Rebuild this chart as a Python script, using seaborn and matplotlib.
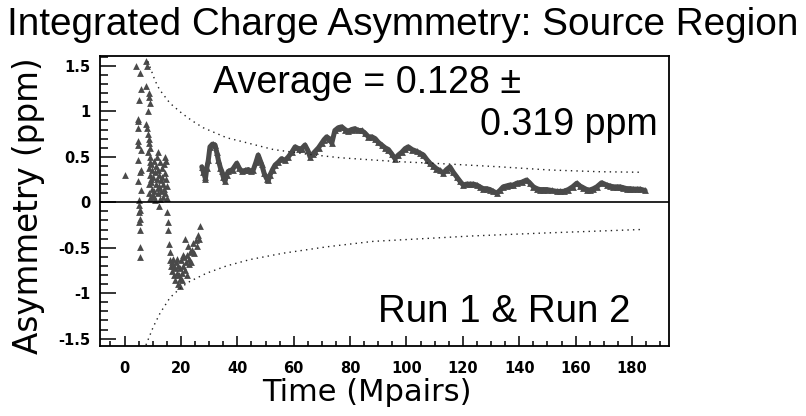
import matplotlib
matplotlib.use("Agg")
import matplotlib.pyplot as plt
from matplotlib.ticker import MultipleLocator, FormatStrFormatter
import seaborn as sns

# --- data ---
# lone early point and the two vertical columns at the start
first_t = [0.2]
first_v = [0.30]

col1_t = [4.0, 5.6, 5.9, 5.1, 4.6, 4.8, 4.8, 4.6, 4.9, 5.7,
          4.8, 5.7, 5.5, 4.8, 5.7, 5.3, 5.3, 5.6, 5.3, 5.6,
          5.3, 5.5, 5.4, 5.4]
col1_v = [1.50, 1.42, 1.25, 1.13, 0.92, 0.89, 0.82, 0.67, 0.63, 0.58,
          0.47, 0.36, 0.33, 0.23, 0.14, 0.02, -0.03, -0.08, -0.11, -0.18,
          -0.22, -0.30, -0.49, -0.60]

col2_t = [7.7, 7.9, 7.6, 8.7, 8.8, 9.0, 8.2, 7.6, 7.8, 8.5,
          8.8, 8.6, 8.9, 8.3, 8.9, 9.1]
col2_v = [1.55, 1.50, 1.28, 1.20, 1.16, 1.09, 1.00, 0.86, 0.82, 0.75,
          0.70, 0.65, 0.60, 0.55, 0.50, 0.44]

# dense clump just above zero
clump_t = [8.6, 8.7, 8.8, 9.0, 9.2, 9.4, 9.5, 9.7, 9.9, 10.0,
           10.2, 10.4, 10.5, 10.7, 10.9, 11.0, 11.2, 11.4, 11.5, 11.7,
           11.9, 12.0, 12.2, 12.4, 12.5, 12.7, 12.9, 13.0, 13.2, 13.4,
           13.5, 13.7, 13.9, 14.0, 14.2, 14.4, 14.5, 14.7, 14.9, 15.0,
           12.3, 11.8, 14.6, 10.3, 9.3]
clump_v = [0.20, 0.38, 0.10, 0.30, 0.05, 0.42, 0.22, 0.15, 0.35, 0.08,
           0.28, 0.45, 0.12, 0.33, 0.02, 0.40, 0.20, 0.50, 0.26, 0.10,
           0.36, 0.55, 0.18, 0.30, 0.04, 0.44, 0.24, 0.12, 0.38, 0.28,
           0.06, 0.20, 0.42, 0.15, 0.32, 0.50, 0.10, 0.26, 0.05, 0.18,
           -0.04, 0.16, 0.45, 0.06, 0.26]

# negative excursion around 20 Mpairs
dip_t = [15.0, 15.5, 15.5, 15.7, 16.0, 16.2, 16.5, 16.8, 17.0, 17.3,
         17.5, 17.8, 18.0, 18.2, 18.5, 18.8, 19.0, 19.3, 19.5, 19.8,
         20.0, 20.3, 20.5, 20.8, 21.0, 21.3, 21.5, 21.8, 22.0, 22.3,
         22.5, 22.8, 23.0, 23.3, 23.6, 24.0, 24.4, 24.8, 25.2, 25.6,
         26.0, 26.4, 26.8, 17.2, 18.6, 20.6, 19.6]
dip_v = [-0.11, -0.22, -0.30, -0.46, -0.55, -0.63, -0.70, -0.66, -0.76, -0.70,
         -0.80, -0.72, -0.85, -0.66, -0.78, -0.70, -0.90, -0.80, -0.72, -0.92,
         -0.64, -0.78, -0.86, -0.70, -0.60, -0.74, -0.40, -0.66, -0.80, -0.58,
         -0.48, -0.68, -0.62, -0.55, -0.66, -0.52, -0.45, -0.56, -0.42, -0.48,
         -0.36, -0.40, -0.26, -0.62, -0.62, -0.58, -0.84]

# running asymmetry after ~27 Mpairs
band_t = [27.4, 28.0, 28.5, 28.7, 29.2, 29.7, 30.3, 31.2, 32.1, 32.7,
          33.3, 34.0, 34.5, 35.0, 35.6, 36.2, 36.8, 38.3, 39.8, 40.6,
          41.5, 42.7, 43.9, 44.8, 45.7, 46.6, 47.4, 48.0, 48.6, 49.5,
          50.4, 51.0, 51.6, 52.5, 53.4, 54.5, 55.7, 56.9, 58.1, 59.3,
          60.5, 61.7, 62.8, 64.0, 65.0, 65.8, 66.7, 67.6, 68.8, 69.9,
          70.8, 71.7, 72.6, 73.5, 74.6, 75.8, 77.0, 78.2, 79.3, 80.5,
          81.7, 82.9, 84.1, 85.3, 86.5, 87.7, 88.9, 90.0, 91.2, 92.4,
          93.6, 94.8, 95.9, 97.1, 98.3, 99.5, 100.6, 102.0, 103.6, 104.8,
          106.0, 107.2, 108.3, 109.5, 110.6, 111.8, 113.0, 114.2, 115.4, 116.6,
          117.8, 119.0, 120.1, 121.3, 122.5, 123.7, 124.9, 126.0, 127.2, 128.4,
          129.6, 130.8, 132.0, 133.1, 134.3, 135.5, 136.7, 137.9, 139.1, 140.8,
          142.6, 143.8, 145.0, 146.2, 147.3, 148.5, 149.7, 151.5, 153.3, 154.5,
          155.7, 157.4, 158.9, 160.4, 161.5, 162.7, 163.9, 165.1, 166.3, 167.5,
          169.2, 171.0, 172.1, 173.3, 174.5, 175.7, 176.9, 178.1, 179.3, 180.5,
          181.6, 182.8, 184.6]
band_v = [0.39, 0.33, 0.28, 0.26, 0.38, 0.46, 0.61, 0.64, 0.63, 0.55,
          0.46, 0.38, 0.34, 0.28, 0.23, 0.30, 0.34, 0.36, 0.43, 0.38,
          0.34, 0.35, 0.36, 0.34, 0.36, 0.44, 0.52, 0.47, 0.42, 0.32,
          0.26, 0.24, 0.30, 0.36, 0.41, 0.44, 0.48, 0.46, 0.50, 0.55,
          0.61, 0.59, 0.59, 0.63, 0.57, 0.50, 0.53, 0.56, 0.60, 0.65,
          0.69, 0.72, 0.70, 0.65, 0.79, 0.82, 0.83, 0.80, 0.78, 0.80,
          0.81, 0.79, 0.79, 0.76, 0.72, 0.72, 0.70, 0.66, 0.63, 0.60,
          0.58, 0.53, 0.48, 0.52, 0.55, 0.59, 0.61, 0.58, 0.56, 0.54,
          0.52, 0.47, 0.43, 0.40, 0.37, 0.35, 0.32, 0.36, 0.39, 0.33,
          0.28, 0.23, 0.19, 0.20, 0.20, 0.20, 0.19, 0.17, 0.15, 0.15,
          0.14, 0.12, 0.10, 0.13, 0.17, 0.18, 0.19, 0.19, 0.21, 0.22,
          0.245, 0.21, 0.17, 0.15, 0.14, 0.14, 0.14, 0.13, 0.12, 0.12,
          0.12, 0.14, 0.17, 0.21, 0.18, 0.16, 0.14, 0.135, 0.15, 0.17,
          0.215, 0.19, 0.18, 0.17, 0.17, 0.17, 0.16, 0.15, 0.15, 0.145,
          0.145, 0.145, 0.13]

# dotted statistical envelope
env_up_t = [8.3, 10.8, 12.4, 16.1, 20.3, 23.8, 27.9, 36.2, 43.3, 52.8,
            64.6, 76.4, 88.2, 97.7, 115.4, 133.0, 150.8, 168.6, 183.4]
env_up_v = [1.55, 1.34, 1.24, 1.09, 0.98, 0.90, 0.82, 0.71, 0.655, 0.58,
            0.53, 0.49, 0.465, 0.446, 0.42, 0.39, 0.355, 0.336, 0.33]
env_lo_t = [7.6, 10.2, 12.6, 16.1, 20.3, 23.2, 29.1, 36.2, 44.5, 56.3,
            71.7, 88.2, 106.0, 123.7, 147.3, 165.1, 182.8]
env_lo_v = [-1.57, -1.37, -1.22, -1.05, -0.93, -0.87, -0.78, -0.70, -0.63, -0.56,
            -0.49, -0.43, -0.40, -0.37, -0.34, -0.32, -0.30]

avg_text = "Average = 0.128 \u00b1"
err_text = "0.319 ppm"
run_text = "Run 1 & Run 2"

# --- drawing ---
sns.set_style("white")
plt.rcParams["font.family"] = ["DejaVu Sans"]
plt.rcParams["text.color"] = "black"
plt.rcParams["xtick.color"] = "black"
plt.rcParams["ytick.color"] = "black"
helv = ["Liberation Sans", "DejaVu Sans"]

fig = plt.figure(figsize=(8.06, 4.16), dpi=100)
ax = fig.add_axes([100 / 806, 70 / 416, 569 / 806, 290 / 416])

pt_color = "#4a4a4a"
scatter_kw = dict(ax=ax, color=pt_color, marker="^", s=24, linewidth=0, legend=False)

sns.scatterplot(x=first_t, y=first_v, **scatter_kw)
sns.scatterplot(x=col1_t, y=col1_v, **scatter_kw)
sns.scatterplot(x=col2_t, y=col2_v, **scatter_kw)
sns.scatterplot(x=clump_t, y=clump_v, **scatter_kw)
sns.scatterplot(x=dip_t, y=dip_v, **scatter_kw)

sns.lineplot(x=band_t, y=band_v, ax=ax, color=pt_color, linewidth=3.6,
             solid_joinstyle="round", solid_capstyle="round")
sns.scatterplot(x=band_t, y=band_v, **scatter_kw)

sns.lineplot(x=env_up_t, y=env_up_v, ax=ax, color="#222222", linewidth=1.0,
             linestyle=(0, (1, 3)))
sns.lineplot(x=env_lo_t, y=env_lo_v, ax=ax, color="#222222", linewidth=1.0,
             linestyle=(0, (1, 3)))

ax.axhline(0, color="black", linewidth=1.2, zorder=1)

ax.set_xlim(-8.7, 193.1)
ax.set_ylim(-1.581, 1.609)

ax.xaxis.set_major_locator(MultipleLocator(20))
ax.xaxis.set_minor_locator(MultipleLocator(5))
ax.yaxis.set_major_locator(MultipleLocator(0.5))
ax.yaxis.set_minor_locator(MultipleLocator(0.1))
ax.yaxis.set_major_formatter(FormatStrFormatter("%g"))

ax.tick_params(axis="both", which="both", direction="in", color="black",
               labelcolor="black", width=1.1,
               top=False, right=False, bottom=True, left=True)
ax.tick_params(axis="x", which="major", length=7, pad=10.5)
ax.tick_params(axis="x", which="minor", length=3.6)
ax.tick_params(axis="y", which="major", length=11.5, pad=7)
ax.tick_params(axis="y", which="minor", length=5.8)
for lab in ax.get_xticklabels() + ax.get_yticklabels():
    lab.set_fontweight("bold")
    lab.set_fontsize(10.5)

for sp in ax.spines.values():
    sp.set_visible(True)
    sp.set_color("black")
    sp.set_linewidth(1.3)

ax.set_xlabel("")
ax.set_ylabel("")

fig.text(0.5, 1 - 35 / 416, "Integrated Charge Asymmetry: Source Region",
         ha="center", va="baseline", fontsize=27.9, family=helv, color="black")
fig.text(366.7 / 806, 1 - 401 / 416, "Time (Mpairs)",
         ha="center", va="baseline", fontsize=22, color="black")
fig.text(29 / 806, 1 - 206 / 416, "Asymmetry (ppm)", rotation=90,
         ha="center", va="center", fontsize=23.5, color="black")

fig.text(213 / 806, 1 - 93 / 416, avg_text, ha="left", va="baseline",
         fontsize=27.1, family=helv, color="black")
fig.text(658 / 806, 1 - 135 / 416, err_text, ha="right", va="baseline",
         fontsize=27.1, family=helv, color="black")
fig.text(630 / 806, 1 - 321.7 / 416, run_text, ha="right", va="baseline",
         fontsize=27.7, family=helv, color="black")

fig.savefig("out.png", dpi=100)
